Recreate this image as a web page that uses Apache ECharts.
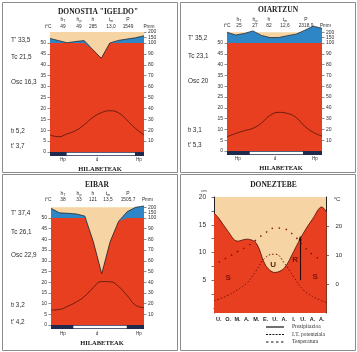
<!DOCTYPE html>
<html><head><meta charset="utf-8">
<script src="https://cdn.jsdelivr.net/npm/echarts@6/dist/echarts.min.js"></script>
<style>html,body{margin:0;padding:0;background:#fff}#c{width:357px;height:352px}</style>
</head><body><div id="c"></div>
<script>
// ---------- DATA ----------
const monthIndex = [0,1,2,3,4,5,6,7,8,9,10,11];

// Donostia "Igeldo"
const donostiaTemp = [7.8, 7.0, 8.3, 9.8, 12.5, 15.8, 18.0, 18.9, 18.0, 14.6, 10.8, 7.8];
const donostiaPrec = [142, 122, 102, 114, 122, 94, 86, 100, 124, 136, 148, 166];
const donostiaFrostFree = [1.95, 9.94];
const donostiaHead = ['49', '49', '285', '13,0', '1549'];
const donostiaStats = [["T'", '33,5'], ['Tc', '21,5'], ['Osc', '16,3'], ['tf', '5,2'], ["t'", '3,7']];

// Oiartzun
const oiartzunTemp = [6.6, 8.1, 9.4, 10.5, 13.0, 16.5, 17.9, 17.4, 15.5, 11.5, 8.6, 6.9];
const oiartzunPrec = [200, 174, 188, 212, 170, 150, 151, 168, 182, 218, 256, 236];
const oiartzunFrostFree = [2.63, 8.8];
const oiartzunHead = ['25', '27', '82', '12,6', '2318,9'];
const oiartzunStats = [["T'", '35,2'], ['Tc', '23,1'], ['Osc', '20'], ['tf', '3,1'], ["t'", '5,3']];

// Eibar
const eibarTemp = [7.0, 7.3, 8.8, 10.8, 13.5, 17.5, 20.3, 20.2, 18.0, 13.8, 9.3, 8.1];
const eibarPrec = [190, 148, 144, 138, 118, 78, 48, 78, 97, 158, 200, 212];
const eibarFrostFree = [2.64, 8.96];
const eibarHead = ['38', '33', '121', '13,5', '1505,7'];
const eibarStats = [["T'", '37,4'], ['Tc', '26,1'], ['Osc', '22,9'], ['tf', '3,2'], ["t'", '4,2']];

const headSymbols = ['{m|h}{s|T}', '{m|h}{s|p}', '{m|h}', '{m|t}{s|m}', '{m|P}'];
const leftTicks = [0, 5, 10, 15, 20, 25, 30, 35, 40, 45, 50];
const rightTicks = [5, 10, 15, 20, 25, 30, 35, 40, 45, 50, 52.5, 55];

// Doneztebe
const doneztebeMonths = ['U.', 'O.', 'M.', 'A.', 'M.', 'E.', 'U.', 'A.', 'I.', 'U.', 'A.', 'A.'];
const doneztebePrec = [16.2, 13.8, 12.05, 12.4, 11.7, 7.7, 6.4, 7.2, 10.2, 13.4, 16.0, 18.2]; // cm
const doneztebePrecEdges = [17.1, 17.3];
const doneztebeET = [1.6, 2.3, 3.3, 4.5, 6.7, 9.1, 9.7, 8.1, 5.6, 3.3, 2.1, 1.3]; // cm
const doneztebeETEdges = [1.3, 1.0];
const doneztebeTemp = [7.5, 9.3, 11.2, 12.9, 15.2, 17.7, 19.3, 19.0, 16.8, 13.3, 10.2, 8.2]; // °C
const doneztebeLeftLabels = [5, 10, 15, 20];
const doneztebeLeftTicks = [2.5, 5, 7.5, 10, 12.5, 15, 17.5, 20];
const doneztebeRightLabels = [0, 10, 20];
const doneztebeAreaLabels = [['S', 1.5, 5.4], ['U', 6.32, 7.75], ['R', 8.65, 8.65], ['S', 10.8, 5.6]];
const doneztebeArrow = [9.19, 5.0, 12.6];
const legendNames = ['Prezipitazioa', 'I.T. potentziala', 'Tenperatura'];

// ---------- STYLE ----------
const RED = '#e83f20', BLUE = '#2f86c6', BEIGE = '#f6d4a3', NAVY = '#1e2b4f', TEMPC = '#4d150b', INK = '#2e2e2e';
const SANS = '"Liberation Sans", Arial, sans-serif', SERIF = '"Liberation Serif", "Times New Roman", serif';

function toUnits(mm) { return mm <= 100 ? mm / 2 : 50 + (mm - 100) / 20; }
function pairs(arr) { return arr.map((v, i) => [monthIndex[i], v]); }

const panels = [
  {name: 'DONOSTIA "IGELDO"', temp: donostiaTemp, prec: donostiaPrec, free: donostiaFrostFree, head: donostiaHead, stats: donostiaStats,
   grid: {left: 50, top: 32.1, width: 94, height: 123.8}, titleX: 98, titleY: 12, headX: [63, 79, 93, 111, 128], symY: 20, valY: 26.5,
   tX: 48, pmmX: 149, statX: 11, statY: [40, 57, 82, 131, 146], hpX: [63, 97, 139], hpY: 159.5, hilX: 100, hilY: 169},
  {name: 'OIARTZUN', temp: oiartzunTemp, prec: oiartzunPrec, free: oiartzunFrostFree, head: oiartzunHead, stats: oiartzunStats,
   grid: {left: 227, top: 32.2, width: 95, height: 122.7}, titleX: 278, titleY: 10.5, headX: [239, 255, 269, 285, 306], symY: 19.5, valY: 25.5,
   tX: 227, pmmX: 325.5, statX: 188, statY: [38.5, 56.7, 81.7, 130, 145], hpX: [238, 275, 315], hpY: 158.5, hilX: 281, hilY: 168},
  {name: 'EIBAR', temp: eibarTemp, prec: eibarPrec, free: eibarFrostFree, head: eibarHead, stats: eibarStats,
   grid: {left: 51, top: 207.3, width: 93, height: 121.6}, titleX: 97, titleY: 185, headX: [63, 79, 93, 108, 128], symY: 194, valY: 199.5,
   tX: 48, pmmX: 147.5, statX: 11, statY: [213, 232, 255, 305, 322], hpX: [63, 97, 139], hpY: 334, hilX: 102, hilY: 343}
];

const grids = [], xAxes = [], yAxes = [], series = [], graphics = [];

// frames
[[2, 2], [180, 2], [2, 174], [180, 174]].forEach(p => {
  graphics.push({type: 'rect', shape: {x: p[0] + 0.5, y: p[1] + 0.5, width: 175, height: p[1] < 100 ? 170 : 176},
    style: {fill: 'none', stroke: '#8c8c8c', lineWidth: 1}, silent: true});
});

function txt(x, y, text, size, opts) {
  opts = opts || {};
  return {type: 'text', x: x, y: y, silent: true, z: 50,
    style: {text: text, fill: opts.fill || INK, fontSize: size, fontFamily: opts.family || SANS,
      fontWeight: opts.weight || 'normal', align: opts.align || 'center', verticalAlign: 'middle', rich: opts.rich}};
}
const richSub = {m: {fontSize: 5, fontFamily: SANS, fill: INK}, s: {fontSize: 3.6, fontFamily: SANS, fill: INK, verticalAlign: 'bottom', padding: [2, 0, 0, 0]}};

panels.forEach((p, g) => {
  grids.push(Object.assign({show: true, backgroundColor: BEIGE, borderWidth: 0, containLabel: false}, p.grid));
  xAxes.push({type: 'value', gridIndex: g, min: 0, max: 11, show: false});
  const yBase = {type: 'value', gridIndex: g, min: -1.8, max: 55, splitLine: {show: false}, axisLine: {show: false}};
  yAxes.push(Object.assign({}, yBase, {position: 'left',
    axisTick: {show: true, length: 2.5, customValues: leftTicks, lineStyle: {color: '#444', width: 0.6}},
    axisLabel: {customValues: leftTicks, fontSize: 5, color: INK, margin: 4, fontFamily: SANS}}));
  yAxes.push(Object.assign({}, yBase, {position: 'right',
    axisTick: {show: true, length: 2.5, customValues: rightTicks, lineStyle: {color: '#444', width: 0.6}},
    axisLabel: {customValues: rightTicks, fontSize: 5, color: INK, margin: 4, fontFamily: SANS,
      formatter: v => String(Math.round(v <= 50 ? v * 2 : 100 + (v - 50) * 20))}}));
  const units = p.prec.map(toUnits);
  const yi = 2 * g;
  series.push({type: 'line', xAxisIndex: g, yAxisIndex: yi, data: pairs(units), symbol: 'none', silent: true, clip: false,
    lineStyle: {width: 0}, areaStyle: {color: BLUE, opacity: 1}, z: 2});
  series.push({type: 'line', xAxisIndex: g, yAxisIndex: yi, data: pairs(units.map(u => Math.min(u, 50))), symbol: 'none', silent: true,
    lineStyle: {width: 0}, areaStyle: {color: RED, opacity: 1}, z: 3,
    markArea: {silent: true, data: [[{xAxis: 0, yAxis: -1.8, itemStyle: {color: NAVY}}, {xAxis: 11, yAxis: 0}]]}});
  series.push({type: 'line', xAxisIndex: g, yAxisIndex: yi, data: pairs(units), symbol: 'none', silent: true, clip: false,
    lineStyle: {width: 0.7, color: '#1a1a1a'}, z: 4});
  series.push({type: 'line', xAxisIndex: g, yAxisIndex: yi, data: pairs(p.temp), symbol: 'none', silent: true, smooth: true,
    lineStyle: {width: 0.8, color: TEMPC}, z: 5,
    markArea: {silent: true, data: [[{xAxis: p.free[0], yAxis: -1.45, itemStyle: {color: '#ffffff'}}, {xAxis: p.free[1], yAxis: -0.35}]]}});

  // texts
  graphics.push(txt(p.titleX, p.titleY, p.name, 7.5, {family: SERIF, weight: 'bold', fill: '#222'}));
  graphics.push(txt(p.tX, p.valY, 't°C', 4.8));
  graphics.push(txt(p.pmmX, p.valY, 'Pmm', 4.8));
  p.headX.forEach((x, i) => {
    graphics.push(txt(x, p.symY, headSymbols[i], 5, {rich: richSub}));
    graphics.push(txt(x, p.valY, p.head[i], 4.8));
  });
  p.stats.forEach((s, i) => {
    const lab = s[0] === 'tf' ? '{a|t}{b|f}{a| ' + s[1] + '}' : '{a|' + s[0] + ' ' + s[1] + '}';
    graphics.push(txt(p.statX, p.statY[i], lab, 6.4, {align: 'left',
      rich: {a: {fontSize: 6.4, fontFamily: SANS, fill: INK}, b: {fontSize: 4.6, fontFamily: SANS, fill: INK, verticalAlign: 'bottom', padding: [2, 0, 0, 0]}}}));
  });
  graphics.push(txt(p.hpX[0], p.hpY, 'Hp', 4.5));
  graphics.push(txt(p.hpX[1], p.hpY, 'd', 4.5));
  graphics.push(txt(p.hpX[2], p.hpY, 'Hp', 4.5));
  graphics.push(txt(p.hilX, p.hilY, 'HILABETEAK', 6.5, {family: SERIF, weight: 'bold', fill: '#222'}));
});

// ---------- DONEZTEBE ----------
const centers = monthIndex.map(i => i + 0.5);
grids.push({show: true, backgroundColor: BEIGE, borderWidth: 0, left: 214, top: 197, width: 112.5, height: 116});
xAxes.push({type: 'value', gridIndex: 3, min: 0, max: 12, splitLine: {show: false},
  axisLine: {show: true, lineStyle: {color: '#111', width: 1}}, axisTick: {show: false},
  axisLabel: {customValues: centers, formatter: v => doneztebeMonths[Math.floor(v)], fontSize: 5.5, fontWeight: 'bold',
    color: '#222', margin: 3, fontFamily: SANS}});
yAxes.push({type: 'value', gridIndex: 3, position: 'left', min: -0.9, max: 20, splitLine: {show: false},
  axisLine: {show: true, lineStyle: {color: '#222', width: 1}},
  axisTick: {show: true, length: 2.5, customValues: doneztebeLeftTicks, lineStyle: {color: '#333', width: 0.7}},
  axisLabel: {customValues: doneztebeLeftLabels, fontSize: 6.5, color: INK, margin: 8, fontFamily: SANS}});
yAxes.push({type: 'value', gridIndex: 3, position: 'right', min: -10, max: 30, splitLine: {show: false},
  axisLine: {show: true, lineStyle: {color: '#222', width: 1}},
  axisTick: {show: true, length: 2.5, customValues: doneztebeRightLabels, lineStyle: {color: '#333', width: 0.7}},
  axisLabel: {customValues: doneztebeRightLabels, fontSize: 6, color: INK, margin: 9, fontFamily: SANS}});

const precData = [[0, doneztebePrecEdges[0]]].concat(doneztebePrec.map((v, i) => [centers[i], v]), [[12, doneztebePrecEdges[1]]]);
const etData = [[0, doneztebeETEdges[0]]].concat(doneztebeET.map((v, i) => [centers[i], v]), [[12, doneztebeETEdges[1]]]);
series.push({name: legendNames[0], type: 'line', xAxisIndex: 3, yAxisIndex: 6, data: precData, symbol: 'none', smooth: 0.35, silent: true,
  lineStyle: {color: '#4a0a04', width: 0.8}, areaStyle: {color: RED, opacity: 1, origin: 'start'}, z: 3,
  markPoint: {silent: true, symbol: 'circle', symbolSize: 1, itemStyle: {color: 'rgba(0,0,0,0)'},
    data: doneztebeAreaLabels.map(l => ({coord: [l[1], l[2]], label: {show: true, formatter: l[0], fontSize: 8, fontFamily: SANS,
      fontWeight: 'bold', color: l[0] === 'U' ? '#5a2810' : '#7e1206', position: 'inside'}}))},
  markLine: {silent: true, symbol: ['none', 'triangle'], symbolSize: [3, 5],
    lineStyle: {color: '#2a0703', width: 1.1, type: 'solid'}, label: {show: false},
    data: [[{coord: [doneztebeArrow[0], doneztebeArrow[1]]}, {coord: [doneztebeArrow[0], doneztebeArrow[2]]}]]}});
series.push({name: legendNames[1], type: 'line', xAxisIndex: 3, yAxisIndex: 6, data: etData, symbol: 'none', smooth: true, silent: true,
  lineStyle: {color: '#7a1206', width: 1, type: [1.5, 2]}, z: 5});
series.push({name: legendNames[2], type: 'line', xAxisIndex: 3, yAxisIndex: 7, data: doneztebeTemp.map((v, i) => [centers[i], v]),
  symbol: 'none', smooth: true, silent: true, lineStyle: {color: '#7a1206', width: 1.4, type: [1.5, 5.5]}, z: 5});

graphics.push(txt(273.5, 185, 'DONEZTEBE', 7.5, {family: SERIF, weight: 'bold', fill: '#222'}));
graphics.push(txt(204, 190.5, 'cm', 4.2));
graphics.push(txt(337, 199, '°C', 6));
// legend
const legDash = [null, [2, 1.2], [2.5, 2.5]];
[327, 334.5, 342].forEach((y, i) => {
  graphics.push({type: 'line', silent: true, z: 50, shape: {x1: 266, y1: y, x2: 284, y2: y},
    style: {stroke: '#111', lineWidth: 1.2, lineDash: legDash[i]}});
  graphics.push(txt(292, y, legendNames[i], 5.5, {family: SERIF, align: 'left', fill: '#333'}));
});

const chart = echarts.init(document.getElementById('c'), null, {renderer: 'canvas'});
chart.setOption({animation: false, backgroundColor: '#ffffff', grid: grids, xAxis: xAxes, yAxis: yAxes, series: series, graphic: graphics});
</script></body></html>
